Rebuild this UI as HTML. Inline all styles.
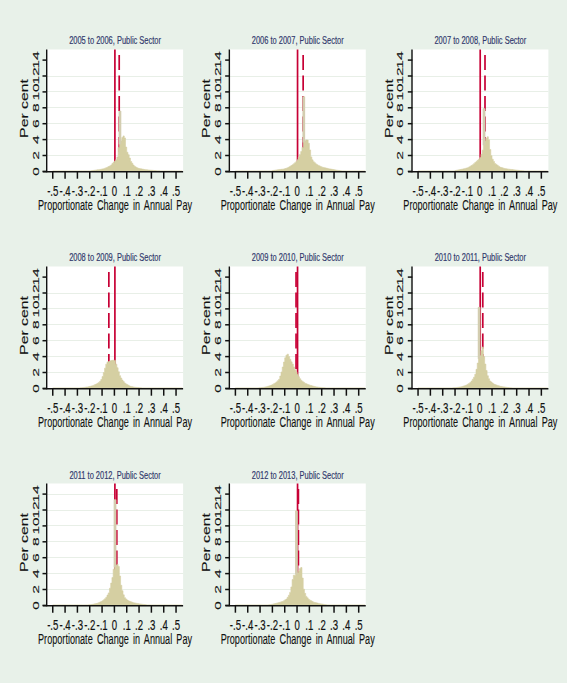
<!DOCTYPE html>
<html><head><meta charset="utf-8"><style>
html,body{margin:0;padding:0;width:567px;height:683px;overflow:hidden;background:#e8f1e9}
svg text{font-family:"Liberation Sans",sans-serif}
</style></head><body>
<svg width="567" height="683" viewBox="0 0 567 683" style="position:absolute;left:0;top:0">
<rect width="567" height="683" fill="#e8f1e9"/>
<g><rect x="47.00" y="49.50" width="136.10" height="121.90" fill="#fff"/><line x1="47.00" x2="183.10" y1="155.50" y2="155.50" stroke="#e8efe7" stroke-width="1"/><line x1="47.00" x2="183.10" y1="139.50" y2="139.50" stroke="#e8efe7" stroke-width="1"/><line x1="47.00" x2="183.10" y1="123.50" y2="123.50" stroke="#e8efe7" stroke-width="1"/><line x1="47.00" x2="183.10" y1="107.50" y2="107.50" stroke="#e8efe7" stroke-width="1"/><line x1="47.00" x2="183.10" y1="91.50" y2="91.50" stroke="#e8efe7" stroke-width="1"/><line x1="47.00" x2="183.10" y1="76.50" y2="76.50" stroke="#e8efe7" stroke-width="1"/><line x1="114.90" x2="114.90" y1="49.50" y2="171.40" stroke="#c70035" stroke-width="1.7"/><line x1="119.21" x2="119.21" y1="171.90" y2="49.50" stroke="#c70035" stroke-width="1.7" stroke-dasharray="15 5.5" stroke-dashoffset="0.5"/><path d="M52.75 171.40V170.92H53.98V170.92H55.22V170.92H56.45V170.92H57.68V170.92H58.92V170.92H60.15V170.92H61.38V170.92H62.61V170.92H63.85V170.92H65.08V170.92H66.31V170.92H67.55V170.92H68.78V170.92H70.01V170.92H71.25V170.92H72.48V170.92H73.71V170.92H74.94V170.92H76.18V170.92H77.41V170.92H78.64V170.92H79.88V170.92H81.11V170.92H82.34V170.92H83.58V170.92H84.81V170.92H86.04V170.92H87.27V170.92H88.51V170.92H89.74V170.91H90.97V170.73H92.21V170.55H93.44V170.37H94.67V170.18H95.91V170.00H97.14V169.82H98.37V169.64H99.60V169.44H100.84V169.20H102.07V168.96H103.30V168.72H104.54V168.23H105.77V167.71H107.00V167.18H108.24V166.56H109.47V165.90H110.70V165.01H111.93V163.58H113.17V162.15H114.40V161.06H115.63V159.74H116.87V157.09H118.10V147.55H119.33V110.98H120.57V140.79H121.80V137.53H123.03V135.94H124.26V137.93H125.50V147.07H126.73V152.26H127.96V154.71H129.20V158.08H130.43V161.46H131.66V163.28H132.90V165.11H134.13V166.30H135.36V167.07H136.59V167.84H137.83V168.34H139.06V168.58H140.29V168.82H141.53V169.05H142.76V169.27H143.99V169.47H145.22V169.67H146.46V169.87H147.69V170.02H148.92V170.12H150.16V170.22H151.39V170.32H152.62V170.42H153.86V170.52H155.09V170.61H156.32V170.71H157.56V170.80H158.79V170.86H160.02V170.92H161.25V170.92H162.49V170.92H163.72V170.92H164.95V170.92H166.19V170.92H167.42V170.92H168.65V170.92H169.88V170.92H171.12V170.92H172.35V170.92H173.58V170.92H174.82V170.92H176.05V170.92H177.28V170.92H178.52V170.92H179.75V170.92H180.98V170.92H182.22V171.40Z" fill="#d5cfa2" stroke="#d5cfa2" stroke-width="0.6"/><rect x="118.63" y="110.98" width="2.63" height="33.39" fill="#d3cdb0"/><line x1="46.70" x2="46.70" y1="49.50" y2="172.15" stroke="#111" stroke-width="1.4"/><line x1="42.80" x2="183.10" y1="171.70" y2="171.70" stroke="#111" stroke-width="1.5"/><line x1="42.50" x2="47.00" y1="171.40" y2="171.40" stroke="#111" stroke-width="1.5"/><line x1="42.50" x2="47.00" y1="155.50" y2="155.50" stroke="#111" stroke-width="1.5"/><line x1="42.50" x2="47.00" y1="139.60" y2="139.60" stroke="#111" stroke-width="1.5"/><line x1="42.50" x2="47.00" y1="123.70" y2="123.70" stroke="#111" stroke-width="1.5"/><line x1="42.50" x2="47.00" y1="107.80" y2="107.80" stroke="#111" stroke-width="1.5"/><line x1="42.50" x2="47.00" y1="91.90" y2="91.90" stroke="#111" stroke-width="1.5"/><line x1="42.50" x2="47.00" y1="76.00" y2="76.00" stroke="#111" stroke-width="1.5"/><line x1="42.50" x2="47.00" y1="60.10" y2="60.10" stroke="#111" stroke-width="1.5"/><line x1="52.75" x2="52.75" y1="171.40" y2="178.70" stroke="#111" stroke-width="1.5"/><line x1="65.08" x2="65.08" y1="171.40" y2="178.70" stroke="#111" stroke-width="1.5"/><line x1="77.41" x2="77.41" y1="171.40" y2="178.70" stroke="#111" stroke-width="1.5"/><line x1="89.74" x2="89.74" y1="171.40" y2="178.70" stroke="#111" stroke-width="1.5"/><line x1="102.07" x2="102.07" y1="171.40" y2="178.70" stroke="#111" stroke-width="1.5"/><line x1="114.40" x2="114.40" y1="171.40" y2="178.70" stroke="#111" stroke-width="1.5"/><line x1="126.73" x2="126.73" y1="171.40" y2="178.70" stroke="#111" stroke-width="1.5"/><line x1="139.06" x2="139.06" y1="171.40" y2="178.70" stroke="#111" stroke-width="1.5"/><line x1="151.39" x2="151.39" y1="171.40" y2="178.70" stroke="#111" stroke-width="1.5"/><line x1="163.72" x2="163.72" y1="171.40" y2="178.70" stroke="#111" stroke-width="1.5"/><line x1="176.05" x2="176.05" y1="171.40" y2="178.70" stroke="#111" stroke-width="1.5"/><text transform="translate(52.75,196.00) scale(0.625,1)" text-anchor="middle" font-size="15.4" fill="#111" stroke="#111" stroke-width="0.2">-.5</text><text transform="translate(65.08,196.00) scale(0.625,1)" text-anchor="middle" font-size="15.4" fill="#111" stroke="#111" stroke-width="0.2">-.4</text><text transform="translate(77.41,196.00) scale(0.625,1)" text-anchor="middle" font-size="15.4" fill="#111" stroke="#111" stroke-width="0.2">-.3</text><text transform="translate(89.74,196.00) scale(0.625,1)" text-anchor="middle" font-size="15.4" fill="#111" stroke="#111" stroke-width="0.2">-.2</text><text transform="translate(102.07,196.00) scale(0.625,1)" text-anchor="middle" font-size="15.4" fill="#111" stroke="#111" stroke-width="0.2">-.1</text><text transform="translate(114.40,196.00) scale(0.625,1)" text-anchor="middle" font-size="15.4" fill="#111" stroke="#111" stroke-width="0.2">0</text><text transform="translate(126.73,196.00) scale(0.625,1)" text-anchor="middle" font-size="15.4" fill="#111" stroke="#111" stroke-width="0.2">.1</text><text transform="translate(139.06,196.00) scale(0.625,1)" text-anchor="middle" font-size="15.4" fill="#111" stroke="#111" stroke-width="0.2">.2</text><text transform="translate(151.39,196.00) scale(0.625,1)" text-anchor="middle" font-size="15.4" fill="#111" stroke="#111" stroke-width="0.2">.3</text><text transform="translate(163.72,196.00) scale(0.625,1)" text-anchor="middle" font-size="15.4" fill="#111" stroke="#111" stroke-width="0.2">.4</text><text transform="translate(176.05,196.00) scale(0.625,1)" text-anchor="middle" font-size="15.4" fill="#111" stroke="#111" stroke-width="0.2">.5</text><text transform="translate(38.70,171.40) rotate(-90) scale(1,0.63)" text-anchor="middle" font-size="15.5" fill="#111" stroke="#111" stroke-width="0.2">0</text><text transform="translate(38.70,155.50) rotate(-90) scale(1,0.63)" text-anchor="middle" font-size="15.5" fill="#111" stroke="#111" stroke-width="0.2">2</text><text transform="translate(38.70,139.60) rotate(-90) scale(1,0.63)" text-anchor="middle" font-size="15.5" fill="#111" stroke="#111" stroke-width="0.2">4</text><text transform="translate(38.70,123.70) rotate(-90) scale(1,0.63)" text-anchor="middle" font-size="15.5" fill="#111" stroke="#111" stroke-width="0.2">6</text><text transform="translate(38.70,107.80) rotate(-90) scale(1,0.63)" text-anchor="middle" font-size="15.5" fill="#111" stroke="#111" stroke-width="0.2">8</text><text transform="translate(38.70,91.90) rotate(-90) scale(1,0.63)" text-anchor="middle" font-size="15.5" fill="#111" stroke="#111" stroke-width="0.2">10</text><text transform="translate(38.70,76.00) rotate(-90) scale(1,0.63)" text-anchor="middle" font-size="15.5" fill="#111" stroke="#111" stroke-width="0.2">12</text><text transform="translate(38.70,60.10) rotate(-90) scale(1,0.63)" text-anchor="middle" font-size="15.5" fill="#111" stroke="#111" stroke-width="0.2">14</text><text transform="translate(115.05,210.20) scale(0.62,1)" text-anchor="middle" font-size="14.7" word-spacing="2.7" fill="#111" stroke="#111" stroke-width="0.12">Proportionate Change in Annual Pay</text><text transform="translate(28.00,108.50) rotate(-90) scale(1,0.64)" text-anchor="middle" font-size="15.8" fill="#111" stroke="#111" stroke-width="0.2">Per cent</text><text transform="translate(115.05,43.80) scale(0.657,1)" text-anchor="middle" font-size="11.4" fill="#30386c" stroke="#30386c" stroke-width="0.18">2005 to 2006, Public Sector</text></g>
<g><rect x="229.65" y="49.50" width="136.10" height="121.90" fill="#fff"/><line x1="229.65" x2="365.75" y1="155.50" y2="155.50" stroke="#e8efe7" stroke-width="1"/><line x1="229.65" x2="365.75" y1="139.50" y2="139.50" stroke="#e8efe7" stroke-width="1"/><line x1="229.65" x2="365.75" y1="123.50" y2="123.50" stroke="#e8efe7" stroke-width="1"/><line x1="229.65" x2="365.75" y1="107.50" y2="107.50" stroke="#e8efe7" stroke-width="1"/><line x1="229.65" x2="365.75" y1="91.50" y2="91.50" stroke="#e8efe7" stroke-width="1"/><line x1="229.65" x2="365.75" y1="76.50" y2="76.50" stroke="#e8efe7" stroke-width="1"/><line x1="297.55" x2="297.55" y1="49.50" y2="171.40" stroke="#c70035" stroke-width="1.7"/><line x1="303.15" x2="303.15" y1="171.90" y2="49.50" stroke="#c70035" stroke-width="1.7" stroke-dasharray="15 5.5" stroke-dashoffset="0.5"/><path d="M235.40 171.40V170.92H236.63V170.92H237.87V170.92H239.10V170.92H240.33V170.92H241.56V170.92H242.80V170.92H244.03V170.92H245.26V170.92H246.50V170.92H247.73V170.92H248.96V170.92H250.20V170.92H251.43V170.92H252.66V170.92H253.90V170.92H255.13V170.92H256.36V170.92H257.59V170.92H258.83V170.92H260.06V170.92H261.29V170.92H262.53V170.92H263.76V170.92H264.99V170.92H266.23V170.92H267.46V170.92H268.69V170.92H269.92V170.92H271.16V170.92H272.39V170.52H273.62V170.34H274.86V170.16H276.09V169.98H277.32V169.80H278.56V169.62H279.79V169.45H281.02V169.30H282.25V169.15H283.49V168.98H284.72V168.59H285.95V168.21H287.19V167.82H288.42V167.12H289.65V166.35H290.88V165.57H292.12V164.80H293.35V163.78H294.58V162.69H295.82V161.61H297.05V159.74H298.28V157.09H299.52V154.41H300.75V151.43H301.98V147.45H303.22V96.67H304.45V141.01H305.68V139.93H306.91V140.06H308.15V143.29H309.38V149.94H310.61V156.89H311.85V159.87H313.08V161.72H314.31V162.80H315.55V163.88H316.78V164.82H318.01V165.42H319.24V166.03H320.48V166.63H321.71V167.17H322.94V167.46H324.18V167.76H325.41V168.06H326.64V168.36H327.88V168.63H329.11V168.88H330.34V169.12H331.57V169.36H332.81V169.60H334.04V169.84H335.27V170.09H336.51V170.28H337.74V170.43H338.97V170.58H340.21V170.73H341.44V170.88H342.67V170.92H343.90V170.92H345.14V170.92H346.37V170.92H347.60V170.92H348.84V170.92H350.07V170.92H351.30V170.92H352.54V170.92H353.77V170.92H355.00V170.92H356.23V170.92H357.47V170.92H358.70V170.92H359.93V170.92H361.17V170.92H362.40V170.92H363.63V170.92H364.87V171.40Z" fill="#d5cfa2" stroke="#d5cfa2" stroke-width="0.6"/><rect x="302.52" y="96.67" width="2.63" height="45.81" fill="#d3cdb0"/><line x1="229.35" x2="229.35" y1="49.50" y2="172.15" stroke="#111" stroke-width="1.4"/><line x1="225.45" x2="365.75" y1="171.70" y2="171.70" stroke="#111" stroke-width="1.5"/><line x1="225.15" x2="229.65" y1="171.40" y2="171.40" stroke="#111" stroke-width="1.5"/><line x1="225.15" x2="229.65" y1="155.50" y2="155.50" stroke="#111" stroke-width="1.5"/><line x1="225.15" x2="229.65" y1="139.60" y2="139.60" stroke="#111" stroke-width="1.5"/><line x1="225.15" x2="229.65" y1="123.70" y2="123.70" stroke="#111" stroke-width="1.5"/><line x1="225.15" x2="229.65" y1="107.80" y2="107.80" stroke="#111" stroke-width="1.5"/><line x1="225.15" x2="229.65" y1="91.90" y2="91.90" stroke="#111" stroke-width="1.5"/><line x1="225.15" x2="229.65" y1="76.00" y2="76.00" stroke="#111" stroke-width="1.5"/><line x1="225.15" x2="229.65" y1="60.10" y2="60.10" stroke="#111" stroke-width="1.5"/><line x1="235.40" x2="235.40" y1="171.40" y2="178.70" stroke="#111" stroke-width="1.5"/><line x1="247.73" x2="247.73" y1="171.40" y2="178.70" stroke="#111" stroke-width="1.5"/><line x1="260.06" x2="260.06" y1="171.40" y2="178.70" stroke="#111" stroke-width="1.5"/><line x1="272.39" x2="272.39" y1="171.40" y2="178.70" stroke="#111" stroke-width="1.5"/><line x1="284.72" x2="284.72" y1="171.40" y2="178.70" stroke="#111" stroke-width="1.5"/><line x1="297.05" x2="297.05" y1="171.40" y2="178.70" stroke="#111" stroke-width="1.5"/><line x1="309.38" x2="309.38" y1="171.40" y2="178.70" stroke="#111" stroke-width="1.5"/><line x1="321.71" x2="321.71" y1="171.40" y2="178.70" stroke="#111" stroke-width="1.5"/><line x1="334.04" x2="334.04" y1="171.40" y2="178.70" stroke="#111" stroke-width="1.5"/><line x1="346.37" x2="346.37" y1="171.40" y2="178.70" stroke="#111" stroke-width="1.5"/><line x1="358.70" x2="358.70" y1="171.40" y2="178.70" stroke="#111" stroke-width="1.5"/><text transform="translate(235.40,196.00) scale(0.625,1)" text-anchor="middle" font-size="15.4" fill="#111" stroke="#111" stroke-width="0.2">-.5</text><text transform="translate(247.73,196.00) scale(0.625,1)" text-anchor="middle" font-size="15.4" fill="#111" stroke="#111" stroke-width="0.2">-.4</text><text transform="translate(260.06,196.00) scale(0.625,1)" text-anchor="middle" font-size="15.4" fill="#111" stroke="#111" stroke-width="0.2">-.3</text><text transform="translate(272.39,196.00) scale(0.625,1)" text-anchor="middle" font-size="15.4" fill="#111" stroke="#111" stroke-width="0.2">-.2</text><text transform="translate(284.72,196.00) scale(0.625,1)" text-anchor="middle" font-size="15.4" fill="#111" stroke="#111" stroke-width="0.2">-.1</text><text transform="translate(297.05,196.00) scale(0.625,1)" text-anchor="middle" font-size="15.4" fill="#111" stroke="#111" stroke-width="0.2">0</text><text transform="translate(309.38,196.00) scale(0.625,1)" text-anchor="middle" font-size="15.4" fill="#111" stroke="#111" stroke-width="0.2">.1</text><text transform="translate(321.71,196.00) scale(0.625,1)" text-anchor="middle" font-size="15.4" fill="#111" stroke="#111" stroke-width="0.2">.2</text><text transform="translate(334.04,196.00) scale(0.625,1)" text-anchor="middle" font-size="15.4" fill="#111" stroke="#111" stroke-width="0.2">.3</text><text transform="translate(346.37,196.00) scale(0.625,1)" text-anchor="middle" font-size="15.4" fill="#111" stroke="#111" stroke-width="0.2">.4</text><text transform="translate(358.70,196.00) scale(0.625,1)" text-anchor="middle" font-size="15.4" fill="#111" stroke="#111" stroke-width="0.2">.5</text><text transform="translate(220.60,171.40) rotate(-90) scale(1,0.63)" text-anchor="middle" font-size="15.5" fill="#111" stroke="#111" stroke-width="0.2">0</text><text transform="translate(220.60,155.50) rotate(-90) scale(1,0.63)" text-anchor="middle" font-size="15.5" fill="#111" stroke="#111" stroke-width="0.2">2</text><text transform="translate(220.60,139.60) rotate(-90) scale(1,0.63)" text-anchor="middle" font-size="15.5" fill="#111" stroke="#111" stroke-width="0.2">4</text><text transform="translate(220.60,123.70) rotate(-90) scale(1,0.63)" text-anchor="middle" font-size="15.5" fill="#111" stroke="#111" stroke-width="0.2">6</text><text transform="translate(220.60,107.80) rotate(-90) scale(1,0.63)" text-anchor="middle" font-size="15.5" fill="#111" stroke="#111" stroke-width="0.2">8</text><text transform="translate(220.60,91.90) rotate(-90) scale(1,0.63)" text-anchor="middle" font-size="15.5" fill="#111" stroke="#111" stroke-width="0.2">10</text><text transform="translate(220.60,76.00) rotate(-90) scale(1,0.63)" text-anchor="middle" font-size="15.5" fill="#111" stroke="#111" stroke-width="0.2">12</text><text transform="translate(220.60,60.10) rotate(-90) scale(1,0.63)" text-anchor="middle" font-size="15.5" fill="#111" stroke="#111" stroke-width="0.2">14</text><text transform="translate(297.70,210.20) scale(0.62,1)" text-anchor="middle" font-size="14.7" word-spacing="2.7" fill="#111" stroke="#111" stroke-width="0.12">Proportionate Change in Annual Pay</text><text transform="translate(210.20,108.50) rotate(-90) scale(1,0.64)" text-anchor="middle" font-size="15.8" fill="#111" stroke="#111" stroke-width="0.2">Per cent</text><text transform="translate(297.70,43.80) scale(0.657,1)" text-anchor="middle" font-size="11.4" fill="#30386c" stroke="#30386c" stroke-width="0.18">2006 to 2007, Public Sector</text></g>
<g><rect x="412.30" y="49.50" width="136.10" height="121.90" fill="#fff"/><line x1="412.30" x2="548.40" y1="155.50" y2="155.50" stroke="#e8efe7" stroke-width="1"/><line x1="412.30" x2="548.40" y1="139.50" y2="139.50" stroke="#e8efe7" stroke-width="1"/><line x1="412.30" x2="548.40" y1="123.50" y2="123.50" stroke="#e8efe7" stroke-width="1"/><line x1="412.30" x2="548.40" y1="107.50" y2="107.50" stroke="#e8efe7" stroke-width="1"/><line x1="412.30" x2="548.40" y1="91.50" y2="91.50" stroke="#e8efe7" stroke-width="1"/><line x1="412.30" x2="548.40" y1="76.50" y2="76.50" stroke="#e8efe7" stroke-width="1"/><line x1="480.20" x2="480.20" y1="49.50" y2="171.40" stroke="#c70035" stroke-width="1.7"/><line x1="485.00" x2="485.00" y1="171.90" y2="49.50" stroke="#c70035" stroke-width="1.7" stroke-dasharray="15 5.5" stroke-dashoffset="0.5"/><path d="M418.05 171.40V170.92H419.28V170.92H420.52V170.92H421.75V170.92H422.98V170.92H424.22V170.92H425.45V170.92H426.68V170.92H427.91V170.92H429.15V170.92H430.38V170.92H431.61V170.92H432.85V170.92H434.08V170.92H435.31V170.92H436.55V170.92H437.78V170.92H439.01V170.92H440.24V170.92H441.48V170.92H442.71V170.92H443.94V170.92H445.18V170.92H446.41V170.92H447.64V170.92H448.88V170.92H450.11V170.92H451.34V170.92H452.57V170.92H453.81V170.92H455.04V170.48H456.27V170.24H457.51V169.99H458.74V169.75H459.97V169.50H461.21V169.26H462.44V169.02H463.67V168.70H464.90V168.38H466.14V168.06H467.37V167.74H468.60V166.99H469.84V166.23H471.07V165.47H472.30V164.72H473.54V163.64H474.77V162.52H476.00V161.40H477.23V160.30H478.47V159.21H479.70V157.50H480.93V154.37H482.17V150.16H483.40V108.59H484.63V141.12H485.87V138.34H487.10V136.80H488.33V139.80H489.56V149.54H490.80V155.69H492.03V159.22H493.26V161.45H494.50V163.54H495.73V164.43H496.96V165.32H498.20V166.22H499.43V167.11H500.66V167.48H501.89V167.86H503.13V168.24H504.36V168.62H505.59V168.79H506.83V168.97H508.06V169.14H509.29V169.32H510.53V169.47H511.76V169.62H512.99V169.77H514.22V169.92H515.46V170.07H516.69V170.22H517.92V170.37H519.16V170.51H520.39V170.62H521.62V170.74H522.86V170.86H524.09V170.92H525.32V170.92H526.55V170.92H527.79V170.92H529.02V170.92H530.25V170.92H531.49V170.92H532.72V170.92H533.95V170.92H535.19V170.92H536.42V170.92H537.65V170.92H538.88V170.92H540.12V170.92H541.35V170.92H542.58V170.92H543.82V170.92H545.05V170.92H546.28V170.92H547.52V171.40Z" fill="#d5cfa2" stroke="#d5cfa2" stroke-width="0.6"/><rect x="482.70" y="108.59" width="2.63" height="36.65" fill="#d3cdb0"/><line x1="412.00" x2="412.00" y1="49.50" y2="172.15" stroke="#111" stroke-width="1.4"/><line x1="408.10" x2="548.40" y1="171.70" y2="171.70" stroke="#111" stroke-width="1.5"/><line x1="407.80" x2="412.30" y1="171.40" y2="171.40" stroke="#111" stroke-width="1.5"/><line x1="407.80" x2="412.30" y1="155.50" y2="155.50" stroke="#111" stroke-width="1.5"/><line x1="407.80" x2="412.30" y1="139.60" y2="139.60" stroke="#111" stroke-width="1.5"/><line x1="407.80" x2="412.30" y1="123.70" y2="123.70" stroke="#111" stroke-width="1.5"/><line x1="407.80" x2="412.30" y1="107.80" y2="107.80" stroke="#111" stroke-width="1.5"/><line x1="407.80" x2="412.30" y1="91.90" y2="91.90" stroke="#111" stroke-width="1.5"/><line x1="407.80" x2="412.30" y1="76.00" y2="76.00" stroke="#111" stroke-width="1.5"/><line x1="407.80" x2="412.30" y1="60.10" y2="60.10" stroke="#111" stroke-width="1.5"/><line x1="418.05" x2="418.05" y1="171.40" y2="178.70" stroke="#111" stroke-width="1.5"/><line x1="430.38" x2="430.38" y1="171.40" y2="178.70" stroke="#111" stroke-width="1.5"/><line x1="442.71" x2="442.71" y1="171.40" y2="178.70" stroke="#111" stroke-width="1.5"/><line x1="455.04" x2="455.04" y1="171.40" y2="178.70" stroke="#111" stroke-width="1.5"/><line x1="467.37" x2="467.37" y1="171.40" y2="178.70" stroke="#111" stroke-width="1.5"/><line x1="479.70" x2="479.70" y1="171.40" y2="178.70" stroke="#111" stroke-width="1.5"/><line x1="492.03" x2="492.03" y1="171.40" y2="178.70" stroke="#111" stroke-width="1.5"/><line x1="504.36" x2="504.36" y1="171.40" y2="178.70" stroke="#111" stroke-width="1.5"/><line x1="516.69" x2="516.69" y1="171.40" y2="178.70" stroke="#111" stroke-width="1.5"/><line x1="529.02" x2="529.02" y1="171.40" y2="178.70" stroke="#111" stroke-width="1.5"/><line x1="541.35" x2="541.35" y1="171.40" y2="178.70" stroke="#111" stroke-width="1.5"/><text transform="translate(418.05,196.00) scale(0.625,1)" text-anchor="middle" font-size="15.4" fill="#111" stroke="#111" stroke-width="0.2">-.5</text><text transform="translate(430.38,196.00) scale(0.625,1)" text-anchor="middle" font-size="15.4" fill="#111" stroke="#111" stroke-width="0.2">-.4</text><text transform="translate(442.71,196.00) scale(0.625,1)" text-anchor="middle" font-size="15.4" fill="#111" stroke="#111" stroke-width="0.2">-.3</text><text transform="translate(455.04,196.00) scale(0.625,1)" text-anchor="middle" font-size="15.4" fill="#111" stroke="#111" stroke-width="0.2">-.2</text><text transform="translate(467.37,196.00) scale(0.625,1)" text-anchor="middle" font-size="15.4" fill="#111" stroke="#111" stroke-width="0.2">-.1</text><text transform="translate(479.70,196.00) scale(0.625,1)" text-anchor="middle" font-size="15.4" fill="#111" stroke="#111" stroke-width="0.2">0</text><text transform="translate(492.03,196.00) scale(0.625,1)" text-anchor="middle" font-size="15.4" fill="#111" stroke="#111" stroke-width="0.2">.1</text><text transform="translate(504.36,196.00) scale(0.625,1)" text-anchor="middle" font-size="15.4" fill="#111" stroke="#111" stroke-width="0.2">.2</text><text transform="translate(516.69,196.00) scale(0.625,1)" text-anchor="middle" font-size="15.4" fill="#111" stroke="#111" stroke-width="0.2">.3</text><text transform="translate(529.02,196.00) scale(0.625,1)" text-anchor="middle" font-size="15.4" fill="#111" stroke="#111" stroke-width="0.2">.4</text><text transform="translate(541.35,196.00) scale(0.625,1)" text-anchor="middle" font-size="15.4" fill="#111" stroke="#111" stroke-width="0.2">.5</text><text transform="translate(403.30,171.40) rotate(-90) scale(1,0.63)" text-anchor="middle" font-size="15.5" fill="#111" stroke="#111" stroke-width="0.2">0</text><text transform="translate(403.30,155.50) rotate(-90) scale(1,0.63)" text-anchor="middle" font-size="15.5" fill="#111" stroke="#111" stroke-width="0.2">2</text><text transform="translate(403.30,139.60) rotate(-90) scale(1,0.63)" text-anchor="middle" font-size="15.5" fill="#111" stroke="#111" stroke-width="0.2">4</text><text transform="translate(403.30,123.70) rotate(-90) scale(1,0.63)" text-anchor="middle" font-size="15.5" fill="#111" stroke="#111" stroke-width="0.2">6</text><text transform="translate(403.30,107.80) rotate(-90) scale(1,0.63)" text-anchor="middle" font-size="15.5" fill="#111" stroke="#111" stroke-width="0.2">8</text><text transform="translate(403.30,91.90) rotate(-90) scale(1,0.63)" text-anchor="middle" font-size="15.5" fill="#111" stroke="#111" stroke-width="0.2">10</text><text transform="translate(403.30,76.00) rotate(-90) scale(1,0.63)" text-anchor="middle" font-size="15.5" fill="#111" stroke="#111" stroke-width="0.2">12</text><text transform="translate(403.30,60.10) rotate(-90) scale(1,0.63)" text-anchor="middle" font-size="15.5" fill="#111" stroke="#111" stroke-width="0.2">14</text><text transform="translate(480.35,210.20) scale(0.62,1)" text-anchor="middle" font-size="14.7" word-spacing="2.7" fill="#111" stroke="#111" stroke-width="0.12">Proportionate Change in Annual Pay</text><text transform="translate(393.00,108.50) rotate(-90) scale(1,0.64)" text-anchor="middle" font-size="15.8" fill="#111" stroke="#111" stroke-width="0.2">Per cent</text><text transform="translate(480.35,43.80) scale(0.657,1)" text-anchor="middle" font-size="11.4" fill="#30386c" stroke="#30386c" stroke-width="0.18">2007 to 2008, Public Sector</text></g>
<g><rect x="47.00" y="266.50" width="136.10" height="121.90" fill="#fff"/><line x1="47.00" x2="183.10" y1="372.50" y2="372.50" stroke="#e8efe7" stroke-width="1"/><line x1="47.00" x2="183.10" y1="356.50" y2="356.50" stroke="#e8efe7" stroke-width="1"/><line x1="47.00" x2="183.10" y1="340.50" y2="340.50" stroke="#e8efe7" stroke-width="1"/><line x1="47.00" x2="183.10" y1="324.50" y2="324.50" stroke="#e8efe7" stroke-width="1"/><line x1="47.00" x2="183.10" y1="308.50" y2="308.50" stroke="#e8efe7" stroke-width="1"/><line x1="47.00" x2="183.10" y1="293.50" y2="293.50" stroke="#e8efe7" stroke-width="1"/><line x1="114.90" x2="114.90" y1="266.50" y2="388.40" stroke="#c70035" stroke-width="1.7"/><line x1="108.85" x2="108.85" y1="388.90" y2="266.50" stroke="#c70035" stroke-width="1.7" stroke-dasharray="15 5.5" stroke-dashoffset="0.5"/><path d="M52.75 388.40V387.92H53.98V387.92H55.22V387.92H56.45V387.92H57.68V387.92H58.92V387.92H60.15V387.92H61.38V387.92H62.61V387.92H63.85V387.92H65.08V387.92H66.31V387.92H67.55V387.92H68.78V387.92H70.01V387.92H71.25V387.92H72.48V387.92H73.71V387.92H74.94V387.92H76.18V387.92H77.41V387.92H78.64V387.92H79.88V387.85H81.11V387.73H82.34V387.60H83.58V387.43H84.81V387.26H86.04V387.08H87.27V386.91H88.51V386.62H89.74V386.32H90.97V386.02H92.21V385.73H93.44V385.16H94.67V384.55H95.91V383.95H97.14V383.35H98.37V382.38H99.60V381.32H100.84V379.51H102.07V376.56H103.30V372.55H104.54V368.13H105.77V364.15H107.00V361.97H108.24V361.57H109.47V361.04H110.70V360.53H111.93V360.37H113.17V360.21H114.40V360.39H115.63V364.15H116.87V367.73H118.10V371.70H119.33V375.68H120.57V378.02H121.80V380.10H123.03V381.59H124.26V383.08H125.50V383.90H126.73V384.63H127.96V385.37H129.20V386.11H130.43V386.46H131.66V386.72H132.90V386.98H134.13V387.24H135.36V387.37H136.59V387.48H137.83V387.58H139.06V387.69H140.29V387.79H141.53V387.90H142.76V387.92H143.99V387.92H145.22V387.92H146.46V387.92H147.69V387.92H148.92V387.92H150.16V387.92H151.39V387.92H152.62V387.92H153.86V387.92H155.09V387.92H156.32V387.92H157.56V387.92H158.79V387.92H160.02V387.92H161.25V387.92H162.49V387.92H163.72V387.92H164.95V387.92H166.19V387.92H167.42V387.92H168.65V387.92H169.88V387.92H171.12V387.92H172.35V387.92H173.58V387.92H174.82V387.92H176.05V387.92H177.28V387.92H178.52V387.92H179.75V387.92H180.98V387.92H182.22V388.40Z" fill="#d5cfa2" stroke="#d5cfa2" stroke-width="0.6"/><line x1="46.70" x2="46.70" y1="266.50" y2="389.15" stroke="#111" stroke-width="1.4"/><line x1="42.80" x2="183.10" y1="388.70" y2="388.70" stroke="#111" stroke-width="1.5"/><line x1="42.50" x2="47.00" y1="388.40" y2="388.40" stroke="#111" stroke-width="1.5"/><line x1="42.50" x2="47.00" y1="372.50" y2="372.50" stroke="#111" stroke-width="1.5"/><line x1="42.50" x2="47.00" y1="356.60" y2="356.60" stroke="#111" stroke-width="1.5"/><line x1="42.50" x2="47.00" y1="340.70" y2="340.70" stroke="#111" stroke-width="1.5"/><line x1="42.50" x2="47.00" y1="324.80" y2="324.80" stroke="#111" stroke-width="1.5"/><line x1="42.50" x2="47.00" y1="308.90" y2="308.90" stroke="#111" stroke-width="1.5"/><line x1="42.50" x2="47.00" y1="293.00" y2="293.00" stroke="#111" stroke-width="1.5"/><line x1="42.50" x2="47.00" y1="277.10" y2="277.10" stroke="#111" stroke-width="1.5"/><line x1="52.75" x2="52.75" y1="388.40" y2="395.70" stroke="#111" stroke-width="1.5"/><line x1="65.08" x2="65.08" y1="388.40" y2="395.70" stroke="#111" stroke-width="1.5"/><line x1="77.41" x2="77.41" y1="388.40" y2="395.70" stroke="#111" stroke-width="1.5"/><line x1="89.74" x2="89.74" y1="388.40" y2="395.70" stroke="#111" stroke-width="1.5"/><line x1="102.07" x2="102.07" y1="388.40" y2="395.70" stroke="#111" stroke-width="1.5"/><line x1="114.40" x2="114.40" y1="388.40" y2="395.70" stroke="#111" stroke-width="1.5"/><line x1="126.73" x2="126.73" y1="388.40" y2="395.70" stroke="#111" stroke-width="1.5"/><line x1="139.06" x2="139.06" y1="388.40" y2="395.70" stroke="#111" stroke-width="1.5"/><line x1="151.39" x2="151.39" y1="388.40" y2="395.70" stroke="#111" stroke-width="1.5"/><line x1="163.72" x2="163.72" y1="388.40" y2="395.70" stroke="#111" stroke-width="1.5"/><line x1="176.05" x2="176.05" y1="388.40" y2="395.70" stroke="#111" stroke-width="1.5"/><text transform="translate(52.75,413.00) scale(0.625,1)" text-anchor="middle" font-size="15.4" fill="#111" stroke="#111" stroke-width="0.2">-.5</text><text transform="translate(65.08,413.00) scale(0.625,1)" text-anchor="middle" font-size="15.4" fill="#111" stroke="#111" stroke-width="0.2">-.4</text><text transform="translate(77.41,413.00) scale(0.625,1)" text-anchor="middle" font-size="15.4" fill="#111" stroke="#111" stroke-width="0.2">-.3</text><text transform="translate(89.74,413.00) scale(0.625,1)" text-anchor="middle" font-size="15.4" fill="#111" stroke="#111" stroke-width="0.2">-.2</text><text transform="translate(102.07,413.00) scale(0.625,1)" text-anchor="middle" font-size="15.4" fill="#111" stroke="#111" stroke-width="0.2">-.1</text><text transform="translate(114.40,413.00) scale(0.625,1)" text-anchor="middle" font-size="15.4" fill="#111" stroke="#111" stroke-width="0.2">0</text><text transform="translate(126.73,413.00) scale(0.625,1)" text-anchor="middle" font-size="15.4" fill="#111" stroke="#111" stroke-width="0.2">.1</text><text transform="translate(139.06,413.00) scale(0.625,1)" text-anchor="middle" font-size="15.4" fill="#111" stroke="#111" stroke-width="0.2">.2</text><text transform="translate(151.39,413.00) scale(0.625,1)" text-anchor="middle" font-size="15.4" fill="#111" stroke="#111" stroke-width="0.2">.3</text><text transform="translate(163.72,413.00) scale(0.625,1)" text-anchor="middle" font-size="15.4" fill="#111" stroke="#111" stroke-width="0.2">.4</text><text transform="translate(176.05,413.00) scale(0.625,1)" text-anchor="middle" font-size="15.4" fill="#111" stroke="#111" stroke-width="0.2">.5</text><text transform="translate(38.70,388.40) rotate(-90) scale(1,0.63)" text-anchor="middle" font-size="15.5" fill="#111" stroke="#111" stroke-width="0.2">0</text><text transform="translate(38.70,372.50) rotate(-90) scale(1,0.63)" text-anchor="middle" font-size="15.5" fill="#111" stroke="#111" stroke-width="0.2">2</text><text transform="translate(38.70,356.60) rotate(-90) scale(1,0.63)" text-anchor="middle" font-size="15.5" fill="#111" stroke="#111" stroke-width="0.2">4</text><text transform="translate(38.70,340.70) rotate(-90) scale(1,0.63)" text-anchor="middle" font-size="15.5" fill="#111" stroke="#111" stroke-width="0.2">6</text><text transform="translate(38.70,324.80) rotate(-90) scale(1,0.63)" text-anchor="middle" font-size="15.5" fill="#111" stroke="#111" stroke-width="0.2">8</text><text transform="translate(38.70,308.90) rotate(-90) scale(1,0.63)" text-anchor="middle" font-size="15.5" fill="#111" stroke="#111" stroke-width="0.2">10</text><text transform="translate(38.70,293.00) rotate(-90) scale(1,0.63)" text-anchor="middle" font-size="15.5" fill="#111" stroke="#111" stroke-width="0.2">12</text><text transform="translate(38.70,277.10) rotate(-90) scale(1,0.63)" text-anchor="middle" font-size="15.5" fill="#111" stroke="#111" stroke-width="0.2">14</text><text transform="translate(115.05,427.20) scale(0.62,1)" text-anchor="middle" font-size="14.7" word-spacing="2.7" fill="#111" stroke="#111" stroke-width="0.12">Proportionate Change in Annual Pay</text><text transform="translate(28.00,325.50) rotate(-90) scale(1,0.64)" text-anchor="middle" font-size="15.8" fill="#111" stroke="#111" stroke-width="0.2">Per cent</text><text transform="translate(115.05,260.80) scale(0.657,1)" text-anchor="middle" font-size="11.4" fill="#30386c" stroke="#30386c" stroke-width="0.18">2008 to 2009, Public Sector</text></g>
<g><rect x="229.65" y="266.50" width="136.10" height="121.90" fill="#fff"/><line x1="229.65" x2="365.75" y1="372.50" y2="372.50" stroke="#e8efe7" stroke-width="1"/><line x1="229.65" x2="365.75" y1="356.50" y2="356.50" stroke="#e8efe7" stroke-width="1"/><line x1="229.65" x2="365.75" y1="340.50" y2="340.50" stroke="#e8efe7" stroke-width="1"/><line x1="229.65" x2="365.75" y1="324.50" y2="324.50" stroke="#e8efe7" stroke-width="1"/><line x1="229.65" x2="365.75" y1="308.50" y2="308.50" stroke="#e8efe7" stroke-width="1"/><line x1="229.65" x2="365.75" y1="293.50" y2="293.50" stroke="#e8efe7" stroke-width="1"/><line x1="297.55" x2="297.55" y1="266.50" y2="388.40" stroke="#c70035" stroke-width="1.7"/><line x1="296.06" x2="296.06" y1="388.90" y2="266.50" stroke="#c70035" stroke-width="1.7" stroke-dasharray="15 5.5" stroke-dashoffset="0.5"/><path d="M235.40 388.40V387.92H236.63V387.92H237.87V387.92H239.10V387.92H240.33V387.92H241.56V387.92H242.80V387.92H244.03V387.92H245.26V387.92H246.50V387.92H247.73V387.92H248.96V387.92H250.20V387.92H251.43V387.92H252.66V387.92H253.90V387.92H255.13V387.92H256.36V387.92H257.59V387.91H258.83V387.81H260.06V387.71H261.29V387.61H262.53V387.41H263.76V387.19H264.99V386.97H266.23V386.75H267.46V386.35H268.69V385.92H269.92V385.49H271.16V385.07H272.39V384.39H273.62V383.64H274.86V382.89H276.09V381.89H277.32V380.71H278.56V379.33H279.79V376.10H281.02V372.00H282.25V367.03H283.49V362.07H284.72V357.81H285.95V355.23H287.19V354.15H288.42V356.60H289.65V359.33H290.88V361.87H292.12V364.10H293.35V366.94H294.58V369.74H295.82V371.85H297.05V374.19H298.28V376.77H299.52V378.78H300.75V380.42H301.98V381.39H303.22V382.36H304.45V383.28H305.68V383.79H306.91V384.29H308.15V384.80H309.38V385.30H310.61V385.62H311.85V385.95H313.08V386.27H314.31V386.60H315.55V386.90H316.78V387.05H318.01V387.20H319.24V387.35H320.48V387.50H321.71V387.63H322.94V387.73H324.18V387.83H325.41V387.92H326.64V387.92H327.88V387.92H329.11V387.92H330.34V387.92H331.57V387.92H332.81V387.92H334.04V387.92H335.27V387.92H336.51V387.92H337.74V387.92H338.97V387.92H340.21V387.92H341.44V387.92H342.67V387.92H343.90V387.92H345.14V387.92H346.37V387.92H347.60V387.92H348.84V387.92H350.07V387.92H351.30V387.92H352.54V387.92H353.77V387.92H355.00V387.92H356.23V387.92H357.47V387.92H358.70V387.92H359.93V387.92H361.17V387.92H362.40V387.92H363.63V387.92H364.87V388.40Z" fill="#d5cfa2" stroke="#d5cfa2" stroke-width="0.6"/><line x1="229.35" x2="229.35" y1="266.50" y2="389.15" stroke="#111" stroke-width="1.4"/><line x1="225.45" x2="365.75" y1="388.70" y2="388.70" stroke="#111" stroke-width="1.5"/><line x1="225.15" x2="229.65" y1="388.40" y2="388.40" stroke="#111" stroke-width="1.5"/><line x1="225.15" x2="229.65" y1="372.50" y2="372.50" stroke="#111" stroke-width="1.5"/><line x1="225.15" x2="229.65" y1="356.60" y2="356.60" stroke="#111" stroke-width="1.5"/><line x1="225.15" x2="229.65" y1="340.70" y2="340.70" stroke="#111" stroke-width="1.5"/><line x1="225.15" x2="229.65" y1="324.80" y2="324.80" stroke="#111" stroke-width="1.5"/><line x1="225.15" x2="229.65" y1="308.90" y2="308.90" stroke="#111" stroke-width="1.5"/><line x1="225.15" x2="229.65" y1="293.00" y2="293.00" stroke="#111" stroke-width="1.5"/><line x1="225.15" x2="229.65" y1="277.10" y2="277.10" stroke="#111" stroke-width="1.5"/><line x1="235.40" x2="235.40" y1="388.40" y2="395.70" stroke="#111" stroke-width="1.5"/><line x1="247.73" x2="247.73" y1="388.40" y2="395.70" stroke="#111" stroke-width="1.5"/><line x1="260.06" x2="260.06" y1="388.40" y2="395.70" stroke="#111" stroke-width="1.5"/><line x1="272.39" x2="272.39" y1="388.40" y2="395.70" stroke="#111" stroke-width="1.5"/><line x1="284.72" x2="284.72" y1="388.40" y2="395.70" stroke="#111" stroke-width="1.5"/><line x1="297.05" x2="297.05" y1="388.40" y2="395.70" stroke="#111" stroke-width="1.5"/><line x1="309.38" x2="309.38" y1="388.40" y2="395.70" stroke="#111" stroke-width="1.5"/><line x1="321.71" x2="321.71" y1="388.40" y2="395.70" stroke="#111" stroke-width="1.5"/><line x1="334.04" x2="334.04" y1="388.40" y2="395.70" stroke="#111" stroke-width="1.5"/><line x1="346.37" x2="346.37" y1="388.40" y2="395.70" stroke="#111" stroke-width="1.5"/><line x1="358.70" x2="358.70" y1="388.40" y2="395.70" stroke="#111" stroke-width="1.5"/><text transform="translate(235.40,413.00) scale(0.625,1)" text-anchor="middle" font-size="15.4" fill="#111" stroke="#111" stroke-width="0.2">-.5</text><text transform="translate(247.73,413.00) scale(0.625,1)" text-anchor="middle" font-size="15.4" fill="#111" stroke="#111" stroke-width="0.2">-.4</text><text transform="translate(260.06,413.00) scale(0.625,1)" text-anchor="middle" font-size="15.4" fill="#111" stroke="#111" stroke-width="0.2">-.3</text><text transform="translate(272.39,413.00) scale(0.625,1)" text-anchor="middle" font-size="15.4" fill="#111" stroke="#111" stroke-width="0.2">-.2</text><text transform="translate(284.72,413.00) scale(0.625,1)" text-anchor="middle" font-size="15.4" fill="#111" stroke="#111" stroke-width="0.2">-.1</text><text transform="translate(297.05,413.00) scale(0.625,1)" text-anchor="middle" font-size="15.4" fill="#111" stroke="#111" stroke-width="0.2">0</text><text transform="translate(309.38,413.00) scale(0.625,1)" text-anchor="middle" font-size="15.4" fill="#111" stroke="#111" stroke-width="0.2">.1</text><text transform="translate(321.71,413.00) scale(0.625,1)" text-anchor="middle" font-size="15.4" fill="#111" stroke="#111" stroke-width="0.2">.2</text><text transform="translate(334.04,413.00) scale(0.625,1)" text-anchor="middle" font-size="15.4" fill="#111" stroke="#111" stroke-width="0.2">.3</text><text transform="translate(346.37,413.00) scale(0.625,1)" text-anchor="middle" font-size="15.4" fill="#111" stroke="#111" stroke-width="0.2">.4</text><text transform="translate(358.70,413.00) scale(0.625,1)" text-anchor="middle" font-size="15.4" fill="#111" stroke="#111" stroke-width="0.2">.5</text><text transform="translate(220.60,388.40) rotate(-90) scale(1,0.63)" text-anchor="middle" font-size="15.5" fill="#111" stroke="#111" stroke-width="0.2">0</text><text transform="translate(220.60,372.50) rotate(-90) scale(1,0.63)" text-anchor="middle" font-size="15.5" fill="#111" stroke="#111" stroke-width="0.2">2</text><text transform="translate(220.60,356.60) rotate(-90) scale(1,0.63)" text-anchor="middle" font-size="15.5" fill="#111" stroke="#111" stroke-width="0.2">4</text><text transform="translate(220.60,340.70) rotate(-90) scale(1,0.63)" text-anchor="middle" font-size="15.5" fill="#111" stroke="#111" stroke-width="0.2">6</text><text transform="translate(220.60,324.80) rotate(-90) scale(1,0.63)" text-anchor="middle" font-size="15.5" fill="#111" stroke="#111" stroke-width="0.2">8</text><text transform="translate(220.60,308.90) rotate(-90) scale(1,0.63)" text-anchor="middle" font-size="15.5" fill="#111" stroke="#111" stroke-width="0.2">10</text><text transform="translate(220.60,293.00) rotate(-90) scale(1,0.63)" text-anchor="middle" font-size="15.5" fill="#111" stroke="#111" stroke-width="0.2">12</text><text transform="translate(220.60,277.10) rotate(-90) scale(1,0.63)" text-anchor="middle" font-size="15.5" fill="#111" stroke="#111" stroke-width="0.2">14</text><text transform="translate(297.70,427.20) scale(0.62,1)" text-anchor="middle" font-size="14.7" word-spacing="2.7" fill="#111" stroke="#111" stroke-width="0.12">Proportionate Change in Annual Pay</text><text transform="translate(210.20,325.50) rotate(-90) scale(1,0.64)" text-anchor="middle" font-size="15.8" fill="#111" stroke="#111" stroke-width="0.2">Per cent</text><text transform="translate(297.70,260.80) scale(0.657,1)" text-anchor="middle" font-size="11.4" fill="#30386c" stroke="#30386c" stroke-width="0.18">2009 to 2010, Public Sector</text></g>
<g><rect x="412.30" y="266.50" width="136.10" height="121.90" fill="#fff"/><line x1="412.30" x2="548.40" y1="372.50" y2="372.50" stroke="#e8efe7" stroke-width="1"/><line x1="412.30" x2="548.40" y1="356.50" y2="356.50" stroke="#e8efe7" stroke-width="1"/><line x1="412.30" x2="548.40" y1="340.50" y2="340.50" stroke="#e8efe7" stroke-width="1"/><line x1="412.30" x2="548.40" y1="324.50" y2="324.50" stroke="#e8efe7" stroke-width="1"/><line x1="412.30" x2="548.40" y1="308.50" y2="308.50" stroke="#e8efe7" stroke-width="1"/><line x1="412.30" x2="548.40" y1="293.50" y2="293.50" stroke="#e8efe7" stroke-width="1"/><line x1="480.20" x2="480.20" y1="266.50" y2="388.40" stroke="#c70035" stroke-width="1.7"/><line x1="482.78" x2="482.78" y1="388.90" y2="266.50" stroke="#c70035" stroke-width="1.7" stroke-dasharray="15 5.5" stroke-dashoffset="0.5"/><path d="M418.05 388.40V387.92H419.28V387.92H420.52V387.92H421.75V387.92H422.98V387.92H424.22V387.92H425.45V387.92H426.68V387.92H427.91V387.92H429.15V387.92H430.38V387.92H431.61V387.92H432.85V387.92H434.08V387.92H435.31V387.92H436.55V387.92H437.78V387.92H439.01V387.92H440.24V387.92H441.48V387.92H442.71V387.92H443.94V387.92H445.18V387.92H446.41V387.92H447.64V387.92H448.88V387.92H450.11V387.92H451.34V387.92H452.57V387.83H453.81V387.73H455.04V387.63H456.27V387.48H457.51V387.30H458.74V387.11H459.97V386.93H461.21V386.75H462.44V386.33H463.67V385.88H464.90V385.44H466.14V384.99H467.37V384.23H468.60V383.38H469.84V382.54H471.07V381.07H472.30V379.20H473.54V377.22H474.77V374.28H476.00V369.37H477.23V363.12H478.47V307.31H479.70V355.43H480.93V350.64H482.17V346.99H483.40V356.60H484.63V364.05H485.87V370.59H487.10V375.76H488.33V378.74H489.56V381.03H490.80V382.05H492.03V383.07H493.26V384.08H494.50V384.57H495.73V384.99H496.96V385.41H498.20V385.83H499.43V386.25H500.66V386.47H501.89V386.68H503.13V386.89H504.36V387.11H505.59V387.32H506.83V387.49H508.06V387.62H509.29V387.74H510.53V387.86H511.76V387.92H512.99V387.92H514.22V387.92H515.46V387.92H516.69V387.92H517.92V387.92H519.16V387.92H520.39V387.92H521.62V387.92H522.86V387.92H524.09V387.92H525.32V387.92H526.55V387.92H527.79V387.92H529.02V387.92H530.25V387.92H531.49V387.92H532.72V387.92H533.95V387.92H535.19V387.92H536.42V387.92H537.65V387.92H538.88V387.92H540.12V387.92H541.35V387.92H542.58V387.92H543.82V387.92H545.05V387.92H546.28V387.92H547.52V388.40Z" fill="#d5cfa2" stroke="#d5cfa2" stroke-width="0.6"/><rect x="477.77" y="307.31" width="2.63" height="51.47" fill="#d3cdb0"/><line x1="412.00" x2="412.00" y1="266.50" y2="389.15" stroke="#111" stroke-width="1.4"/><line x1="408.10" x2="548.40" y1="388.70" y2="388.70" stroke="#111" stroke-width="1.5"/><line x1="407.80" x2="412.30" y1="388.40" y2="388.40" stroke="#111" stroke-width="1.5"/><line x1="407.80" x2="412.30" y1="372.50" y2="372.50" stroke="#111" stroke-width="1.5"/><line x1="407.80" x2="412.30" y1="356.60" y2="356.60" stroke="#111" stroke-width="1.5"/><line x1="407.80" x2="412.30" y1="340.70" y2="340.70" stroke="#111" stroke-width="1.5"/><line x1="407.80" x2="412.30" y1="324.80" y2="324.80" stroke="#111" stroke-width="1.5"/><line x1="407.80" x2="412.30" y1="308.90" y2="308.90" stroke="#111" stroke-width="1.5"/><line x1="407.80" x2="412.30" y1="293.00" y2="293.00" stroke="#111" stroke-width="1.5"/><line x1="407.80" x2="412.30" y1="277.10" y2="277.10" stroke="#111" stroke-width="1.5"/><line x1="418.05" x2="418.05" y1="388.40" y2="395.70" stroke="#111" stroke-width="1.5"/><line x1="430.38" x2="430.38" y1="388.40" y2="395.70" stroke="#111" stroke-width="1.5"/><line x1="442.71" x2="442.71" y1="388.40" y2="395.70" stroke="#111" stroke-width="1.5"/><line x1="455.04" x2="455.04" y1="388.40" y2="395.70" stroke="#111" stroke-width="1.5"/><line x1="467.37" x2="467.37" y1="388.40" y2="395.70" stroke="#111" stroke-width="1.5"/><line x1="479.70" x2="479.70" y1="388.40" y2="395.70" stroke="#111" stroke-width="1.5"/><line x1="492.03" x2="492.03" y1="388.40" y2="395.70" stroke="#111" stroke-width="1.5"/><line x1="504.36" x2="504.36" y1="388.40" y2="395.70" stroke="#111" stroke-width="1.5"/><line x1="516.69" x2="516.69" y1="388.40" y2="395.70" stroke="#111" stroke-width="1.5"/><line x1="529.02" x2="529.02" y1="388.40" y2="395.70" stroke="#111" stroke-width="1.5"/><line x1="541.35" x2="541.35" y1="388.40" y2="395.70" stroke="#111" stroke-width="1.5"/><text transform="translate(418.05,413.00) scale(0.625,1)" text-anchor="middle" font-size="15.4" fill="#111" stroke="#111" stroke-width="0.2">-.5</text><text transform="translate(430.38,413.00) scale(0.625,1)" text-anchor="middle" font-size="15.4" fill="#111" stroke="#111" stroke-width="0.2">-.4</text><text transform="translate(442.71,413.00) scale(0.625,1)" text-anchor="middle" font-size="15.4" fill="#111" stroke="#111" stroke-width="0.2">-.3</text><text transform="translate(455.04,413.00) scale(0.625,1)" text-anchor="middle" font-size="15.4" fill="#111" stroke="#111" stroke-width="0.2">-.2</text><text transform="translate(467.37,413.00) scale(0.625,1)" text-anchor="middle" font-size="15.4" fill="#111" stroke="#111" stroke-width="0.2">-.1</text><text transform="translate(479.70,413.00) scale(0.625,1)" text-anchor="middle" font-size="15.4" fill="#111" stroke="#111" stroke-width="0.2">0</text><text transform="translate(492.03,413.00) scale(0.625,1)" text-anchor="middle" font-size="15.4" fill="#111" stroke="#111" stroke-width="0.2">.1</text><text transform="translate(504.36,413.00) scale(0.625,1)" text-anchor="middle" font-size="15.4" fill="#111" stroke="#111" stroke-width="0.2">.2</text><text transform="translate(516.69,413.00) scale(0.625,1)" text-anchor="middle" font-size="15.4" fill="#111" stroke="#111" stroke-width="0.2">.3</text><text transform="translate(529.02,413.00) scale(0.625,1)" text-anchor="middle" font-size="15.4" fill="#111" stroke="#111" stroke-width="0.2">.4</text><text transform="translate(541.35,413.00) scale(0.625,1)" text-anchor="middle" font-size="15.4" fill="#111" stroke="#111" stroke-width="0.2">.5</text><text transform="translate(403.30,388.40) rotate(-90) scale(1,0.63)" text-anchor="middle" font-size="15.5" fill="#111" stroke="#111" stroke-width="0.2">0</text><text transform="translate(403.30,372.50) rotate(-90) scale(1,0.63)" text-anchor="middle" font-size="15.5" fill="#111" stroke="#111" stroke-width="0.2">2</text><text transform="translate(403.30,356.60) rotate(-90) scale(1,0.63)" text-anchor="middle" font-size="15.5" fill="#111" stroke="#111" stroke-width="0.2">4</text><text transform="translate(403.30,340.70) rotate(-90) scale(1,0.63)" text-anchor="middle" font-size="15.5" fill="#111" stroke="#111" stroke-width="0.2">6</text><text transform="translate(403.30,324.80) rotate(-90) scale(1,0.63)" text-anchor="middle" font-size="15.5" fill="#111" stroke="#111" stroke-width="0.2">8</text><text transform="translate(403.30,308.90) rotate(-90) scale(1,0.63)" text-anchor="middle" font-size="15.5" fill="#111" stroke="#111" stroke-width="0.2">10</text><text transform="translate(403.30,293.00) rotate(-90) scale(1,0.63)" text-anchor="middle" font-size="15.5" fill="#111" stroke="#111" stroke-width="0.2">12</text><text transform="translate(403.30,277.10) rotate(-90) scale(1,0.63)" text-anchor="middle" font-size="15.5" fill="#111" stroke="#111" stroke-width="0.2">14</text><text transform="translate(480.35,427.20) scale(0.62,1)" text-anchor="middle" font-size="14.7" word-spacing="2.7" fill="#111" stroke="#111" stroke-width="0.12">Proportionate Change in Annual Pay</text><text transform="translate(393.00,325.50) rotate(-90) scale(1,0.64)" text-anchor="middle" font-size="15.8" fill="#111" stroke="#111" stroke-width="0.2">Per cent</text><text transform="translate(480.35,260.80) scale(0.657,1)" text-anchor="middle" font-size="11.4" fill="#30386c" stroke="#30386c" stroke-width="0.18">2010 to 2011, Public Sector</text></g>
<g><rect x="47.00" y="483.50" width="136.10" height="121.90" fill="#fff"/><line x1="47.00" x2="183.10" y1="589.50" y2="589.50" stroke="#e8efe7" stroke-width="1"/><line x1="47.00" x2="183.10" y1="573.50" y2="573.50" stroke="#e8efe7" stroke-width="1"/><line x1="47.00" x2="183.10" y1="557.50" y2="557.50" stroke="#e8efe7" stroke-width="1"/><line x1="47.00" x2="183.10" y1="541.50" y2="541.50" stroke="#e8efe7" stroke-width="1"/><line x1="47.00" x2="183.10" y1="525.50" y2="525.50" stroke="#e8efe7" stroke-width="1"/><line x1="47.00" x2="183.10" y1="510.50" y2="510.50" stroke="#e8efe7" stroke-width="1"/><line x1="47.00" x2="183.10" y1="494.50" y2="494.50" stroke="#e8efe7" stroke-width="1"/><line x1="114.90" x2="114.90" y1="483.50" y2="605.40" stroke="#c70035" stroke-width="1.7"/><line x1="116.80" x2="116.80" y1="605.90" y2="483.50" stroke="#c70035" stroke-width="1.7" stroke-dasharray="15 5.5" stroke-dashoffset="0.5"/><path d="M52.75 605.40V604.92H53.98V604.92H55.22V604.92H56.45V604.92H57.68V604.92H58.92V604.92H60.15V604.92H61.38V604.92H62.61V604.92H63.85V604.92H65.08V604.92H66.31V604.92H67.55V604.92H68.78V604.92H70.01V604.92H71.25V604.92H72.48V604.92H73.71V604.92H74.94V604.92H76.18V604.92H77.41V604.92H78.64V604.92H79.88V604.92H81.11V604.92H82.34V604.92H83.58V604.92H84.81V604.92H86.04V604.92H87.27V604.89H88.51V604.78H89.74V604.67H90.97V604.56H92.21V604.33H93.44V604.06H94.67V603.78H95.91V603.50H97.14V603.23H98.37V602.68H99.60V602.06H100.84V601.44H102.07V600.82H103.30V599.84H104.54V598.72H105.77V597.27H107.00V595.08H108.24V592.90H109.47V588.21H110.70V583.08H111.93V577.57H113.17V569.23H114.40V499.66H115.63V565.44H116.87V564.39H118.10V566.51H119.33V575.99H120.57V585.28H121.80V590.74H123.03V594.87H124.26V597.65H125.50V598.94H126.73V600.07H127.96V600.87H129.20V601.36H130.43V601.84H131.66V602.33H132.90V602.71H134.13V602.95H135.36V603.19H136.59V603.42H137.83V603.66H139.06V603.90H140.29V604.09H141.53V604.25H142.76V604.42H143.99V604.59H145.22V604.75H146.46V604.92H147.69V604.92H148.92V604.92H150.16V604.92H151.39V604.92H152.62V604.92H153.86V604.92H155.09V604.92H156.32V604.92H157.56V604.92H158.79V604.92H160.02V604.92H161.25V604.92H162.49V604.92H163.72V604.92H164.95V604.92H166.19V604.92H167.42V604.92H168.65V604.92H169.88V604.92H171.12V604.92H172.35V604.92H173.58V604.92H174.82V604.92H176.05V604.92H177.28V604.92H178.52V604.92H179.75V604.92H180.98V604.92H182.22V605.40Z" fill="#d5cfa2" stroke="#d5cfa2" stroke-width="0.6"/><rect x="113.70" y="499.66" width="2.63" height="67.58" fill="#d3cdb0"/><line x1="46.70" x2="46.70" y1="483.50" y2="606.15" stroke="#111" stroke-width="1.4"/><line x1="42.80" x2="183.10" y1="605.70" y2="605.70" stroke="#111" stroke-width="1.5"/><line x1="42.50" x2="47.00" y1="605.40" y2="605.40" stroke="#111" stroke-width="1.5"/><line x1="42.50" x2="47.00" y1="589.50" y2="589.50" stroke="#111" stroke-width="1.5"/><line x1="42.50" x2="47.00" y1="573.60" y2="573.60" stroke="#111" stroke-width="1.5"/><line x1="42.50" x2="47.00" y1="557.70" y2="557.70" stroke="#111" stroke-width="1.5"/><line x1="42.50" x2="47.00" y1="541.80" y2="541.80" stroke="#111" stroke-width="1.5"/><line x1="42.50" x2="47.00" y1="525.90" y2="525.90" stroke="#111" stroke-width="1.5"/><line x1="42.50" x2="47.00" y1="510.00" y2="510.00" stroke="#111" stroke-width="1.5"/><line x1="42.50" x2="47.00" y1="494.10" y2="494.10" stroke="#111" stroke-width="1.5"/><line x1="52.75" x2="52.75" y1="605.40" y2="612.70" stroke="#111" stroke-width="1.5"/><line x1="65.08" x2="65.08" y1="605.40" y2="612.70" stroke="#111" stroke-width="1.5"/><line x1="77.41" x2="77.41" y1="605.40" y2="612.70" stroke="#111" stroke-width="1.5"/><line x1="89.74" x2="89.74" y1="605.40" y2="612.70" stroke="#111" stroke-width="1.5"/><line x1="102.07" x2="102.07" y1="605.40" y2="612.70" stroke="#111" stroke-width="1.5"/><line x1="114.40" x2="114.40" y1="605.40" y2="612.70" stroke="#111" stroke-width="1.5"/><line x1="126.73" x2="126.73" y1="605.40" y2="612.70" stroke="#111" stroke-width="1.5"/><line x1="139.06" x2="139.06" y1="605.40" y2="612.70" stroke="#111" stroke-width="1.5"/><line x1="151.39" x2="151.39" y1="605.40" y2="612.70" stroke="#111" stroke-width="1.5"/><line x1="163.72" x2="163.72" y1="605.40" y2="612.70" stroke="#111" stroke-width="1.5"/><line x1="176.05" x2="176.05" y1="605.40" y2="612.70" stroke="#111" stroke-width="1.5"/><text transform="translate(52.75,630.00) scale(0.625,1)" text-anchor="middle" font-size="15.4" fill="#111" stroke="#111" stroke-width="0.2">-.5</text><text transform="translate(65.08,630.00) scale(0.625,1)" text-anchor="middle" font-size="15.4" fill="#111" stroke="#111" stroke-width="0.2">-.4</text><text transform="translate(77.41,630.00) scale(0.625,1)" text-anchor="middle" font-size="15.4" fill="#111" stroke="#111" stroke-width="0.2">-.3</text><text transform="translate(89.74,630.00) scale(0.625,1)" text-anchor="middle" font-size="15.4" fill="#111" stroke="#111" stroke-width="0.2">-.2</text><text transform="translate(102.07,630.00) scale(0.625,1)" text-anchor="middle" font-size="15.4" fill="#111" stroke="#111" stroke-width="0.2">-.1</text><text transform="translate(114.40,630.00) scale(0.625,1)" text-anchor="middle" font-size="15.4" fill="#111" stroke="#111" stroke-width="0.2">0</text><text transform="translate(126.73,630.00) scale(0.625,1)" text-anchor="middle" font-size="15.4" fill="#111" stroke="#111" stroke-width="0.2">.1</text><text transform="translate(139.06,630.00) scale(0.625,1)" text-anchor="middle" font-size="15.4" fill="#111" stroke="#111" stroke-width="0.2">.2</text><text transform="translate(151.39,630.00) scale(0.625,1)" text-anchor="middle" font-size="15.4" fill="#111" stroke="#111" stroke-width="0.2">.3</text><text transform="translate(163.72,630.00) scale(0.625,1)" text-anchor="middle" font-size="15.4" fill="#111" stroke="#111" stroke-width="0.2">.4</text><text transform="translate(176.05,630.00) scale(0.625,1)" text-anchor="middle" font-size="15.4" fill="#111" stroke="#111" stroke-width="0.2">.5</text><text transform="translate(38.70,605.40) rotate(-90) scale(1,0.63)" text-anchor="middle" font-size="15.5" fill="#111" stroke="#111" stroke-width="0.2">0</text><text transform="translate(38.70,589.50) rotate(-90) scale(1,0.63)" text-anchor="middle" font-size="15.5" fill="#111" stroke="#111" stroke-width="0.2">2</text><text transform="translate(38.70,573.60) rotate(-90) scale(1,0.63)" text-anchor="middle" font-size="15.5" fill="#111" stroke="#111" stroke-width="0.2">4</text><text transform="translate(38.70,557.70) rotate(-90) scale(1,0.63)" text-anchor="middle" font-size="15.5" fill="#111" stroke="#111" stroke-width="0.2">6</text><text transform="translate(38.70,541.80) rotate(-90) scale(1,0.63)" text-anchor="middle" font-size="15.5" fill="#111" stroke="#111" stroke-width="0.2">8</text><text transform="translate(38.70,525.90) rotate(-90) scale(1,0.63)" text-anchor="middle" font-size="15.5" fill="#111" stroke="#111" stroke-width="0.2">10</text><text transform="translate(38.70,510.00) rotate(-90) scale(1,0.63)" text-anchor="middle" font-size="15.5" fill="#111" stroke="#111" stroke-width="0.2">12</text><text transform="translate(38.70,494.10) rotate(-90) scale(1,0.63)" text-anchor="middle" font-size="15.5" fill="#111" stroke="#111" stroke-width="0.2">14</text><text transform="translate(115.05,644.20) scale(0.62,1)" text-anchor="middle" font-size="14.7" word-spacing="2.7" fill="#111" stroke="#111" stroke-width="0.12">Proportionate Change in Annual Pay</text><text transform="translate(28.00,542.50) rotate(-90) scale(1,0.64)" text-anchor="middle" font-size="15.8" fill="#111" stroke="#111" stroke-width="0.2">Per cent</text><text transform="translate(115.05,478.50) scale(0.657,1)" text-anchor="middle" font-size="11.4" fill="#30386c" stroke="#30386c" stroke-width="0.18">2011 to 2012, Public Sector</text></g>
<g><rect x="229.65" y="483.50" width="136.10" height="121.90" fill="#fff"/><line x1="229.65" x2="365.75" y1="589.50" y2="589.50" stroke="#e8efe7" stroke-width="1"/><line x1="229.65" x2="365.75" y1="573.50" y2="573.50" stroke="#e8efe7" stroke-width="1"/><line x1="229.65" x2="365.75" y1="557.50" y2="557.50" stroke="#e8efe7" stroke-width="1"/><line x1="229.65" x2="365.75" y1="541.50" y2="541.50" stroke="#e8efe7" stroke-width="1"/><line x1="229.65" x2="365.75" y1="525.50" y2="525.50" stroke="#e8efe7" stroke-width="1"/><line x1="229.65" x2="365.75" y1="510.50" y2="510.50" stroke="#e8efe7" stroke-width="1"/><line x1="297.55" x2="297.55" y1="483.50" y2="605.40" stroke="#c70035" stroke-width="1.7"/><line x1="298.41" x2="298.41" y1="605.90" y2="483.50" stroke="#c70035" stroke-width="1.7" stroke-dasharray="15 5.5" stroke-dashoffset="0.5"/><path d="M235.40 605.40V604.92H236.63V604.92H237.87V604.92H239.10V604.92H240.33V604.92H241.56V604.92H242.80V604.92H244.03V604.92H245.26V604.92H246.50V604.92H247.73V604.92H248.96V604.92H250.20V604.92H251.43V604.92H252.66V604.92H253.90V604.92H255.13V604.92H256.36V604.92H257.59V604.92H258.83V604.92H260.06V604.92H261.29V604.92H262.53V604.92H263.76V604.92H264.99V604.92H266.23V604.92H267.46V604.88H268.69V604.76H269.92V604.65H271.16V604.43H272.39V604.13H273.62V603.83H274.86V603.53H276.09V603.23H277.32V602.89H278.56V602.53H279.79V602.17H281.02V601.82H282.25V601.46H283.49V600.69H284.72V599.87H285.95V599.05H287.19V597.31H288.42V595.18H289.65V592.38H290.88V586.92H292.12V579.53H293.35V575.19H294.58V575.19H295.82V510.79H297.05V572.80H298.28V570.91H299.52V568.56H300.75V567.50H301.98V578.00H303.22V589.15H304.45V593.37H305.68V596.39H306.91V597.85H308.15V599.30H309.38V600.14H310.61V600.81H311.85V601.49H313.08V602.16H314.31V602.53H315.55V602.83H316.78V603.12H318.01V603.41H319.24V603.70H320.48V603.91H321.71V604.11H322.94V604.31H324.18V604.51H325.41V604.70H326.64V604.90H327.88V604.92H329.11V604.92H330.34V604.92H331.57V604.92H332.81V604.92H334.04V604.92H335.27V604.92H336.51V604.92H337.74V604.92H338.97V604.92H340.21V604.92H341.44V604.92H342.67V604.92H343.90V604.92H345.14V604.92H346.37V604.92H347.60V604.92H348.84V604.92H350.07V604.92H351.30V604.92H352.54V604.92H353.77V604.92H355.00V604.92H356.23V604.92H357.47V604.92H358.70V604.92H359.93V604.92H361.17V604.92H362.40V604.92H363.63V604.92H364.87V605.40Z" fill="#d5cfa2" stroke="#d5cfa2" stroke-width="0.6"/><rect x="295.12" y="510.79" width="2.63" height="63.71" fill="#d3cdb0"/><line x1="229.35" x2="229.35" y1="483.50" y2="606.15" stroke="#111" stroke-width="1.4"/><line x1="225.45" x2="365.75" y1="605.70" y2="605.70" stroke="#111" stroke-width="1.5"/><line x1="225.15" x2="229.65" y1="605.40" y2="605.40" stroke="#111" stroke-width="1.5"/><line x1="225.15" x2="229.65" y1="589.50" y2="589.50" stroke="#111" stroke-width="1.5"/><line x1="225.15" x2="229.65" y1="573.60" y2="573.60" stroke="#111" stroke-width="1.5"/><line x1="225.15" x2="229.65" y1="557.70" y2="557.70" stroke="#111" stroke-width="1.5"/><line x1="225.15" x2="229.65" y1="541.80" y2="541.80" stroke="#111" stroke-width="1.5"/><line x1="225.15" x2="229.65" y1="525.90" y2="525.90" stroke="#111" stroke-width="1.5"/><line x1="225.15" x2="229.65" y1="510.00" y2="510.00" stroke="#111" stroke-width="1.5"/><line x1="225.15" x2="229.65" y1="494.10" y2="494.10" stroke="#111" stroke-width="1.5"/><line x1="235.40" x2="235.40" y1="605.40" y2="612.70" stroke="#111" stroke-width="1.5"/><line x1="247.73" x2="247.73" y1="605.40" y2="612.70" stroke="#111" stroke-width="1.5"/><line x1="260.06" x2="260.06" y1="605.40" y2="612.70" stroke="#111" stroke-width="1.5"/><line x1="272.39" x2="272.39" y1="605.40" y2="612.70" stroke="#111" stroke-width="1.5"/><line x1="284.72" x2="284.72" y1="605.40" y2="612.70" stroke="#111" stroke-width="1.5"/><line x1="297.05" x2="297.05" y1="605.40" y2="612.70" stroke="#111" stroke-width="1.5"/><line x1="309.38" x2="309.38" y1="605.40" y2="612.70" stroke="#111" stroke-width="1.5"/><line x1="321.71" x2="321.71" y1="605.40" y2="612.70" stroke="#111" stroke-width="1.5"/><line x1="334.04" x2="334.04" y1="605.40" y2="612.70" stroke="#111" stroke-width="1.5"/><line x1="346.37" x2="346.37" y1="605.40" y2="612.70" stroke="#111" stroke-width="1.5"/><line x1="358.70" x2="358.70" y1="605.40" y2="612.70" stroke="#111" stroke-width="1.5"/><text transform="translate(235.40,630.00) scale(0.625,1)" text-anchor="middle" font-size="15.4" fill="#111" stroke="#111" stroke-width="0.2">-.5</text><text transform="translate(247.73,630.00) scale(0.625,1)" text-anchor="middle" font-size="15.4" fill="#111" stroke="#111" stroke-width="0.2">-.4</text><text transform="translate(260.06,630.00) scale(0.625,1)" text-anchor="middle" font-size="15.4" fill="#111" stroke="#111" stroke-width="0.2">-.3</text><text transform="translate(272.39,630.00) scale(0.625,1)" text-anchor="middle" font-size="15.4" fill="#111" stroke="#111" stroke-width="0.2">-.2</text><text transform="translate(284.72,630.00) scale(0.625,1)" text-anchor="middle" font-size="15.4" fill="#111" stroke="#111" stroke-width="0.2">-.1</text><text transform="translate(297.05,630.00) scale(0.625,1)" text-anchor="middle" font-size="15.4" fill="#111" stroke="#111" stroke-width="0.2">0</text><text transform="translate(309.38,630.00) scale(0.625,1)" text-anchor="middle" font-size="15.4" fill="#111" stroke="#111" stroke-width="0.2">.1</text><text transform="translate(321.71,630.00) scale(0.625,1)" text-anchor="middle" font-size="15.4" fill="#111" stroke="#111" stroke-width="0.2">.2</text><text transform="translate(334.04,630.00) scale(0.625,1)" text-anchor="middle" font-size="15.4" fill="#111" stroke="#111" stroke-width="0.2">.3</text><text transform="translate(346.37,630.00) scale(0.625,1)" text-anchor="middle" font-size="15.4" fill="#111" stroke="#111" stroke-width="0.2">.4</text><text transform="translate(358.70,630.00) scale(0.625,1)" text-anchor="middle" font-size="15.4" fill="#111" stroke="#111" stroke-width="0.2">.5</text><text transform="translate(220.60,605.40) rotate(-90) scale(1,0.63)" text-anchor="middle" font-size="15.5" fill="#111" stroke="#111" stroke-width="0.2">0</text><text transform="translate(220.60,589.50) rotate(-90) scale(1,0.63)" text-anchor="middle" font-size="15.5" fill="#111" stroke="#111" stroke-width="0.2">2</text><text transform="translate(220.60,573.60) rotate(-90) scale(1,0.63)" text-anchor="middle" font-size="15.5" fill="#111" stroke="#111" stroke-width="0.2">4</text><text transform="translate(220.60,557.70) rotate(-90) scale(1,0.63)" text-anchor="middle" font-size="15.5" fill="#111" stroke="#111" stroke-width="0.2">6</text><text transform="translate(220.60,541.80) rotate(-90) scale(1,0.63)" text-anchor="middle" font-size="15.5" fill="#111" stroke="#111" stroke-width="0.2">8</text><text transform="translate(220.60,525.90) rotate(-90) scale(1,0.63)" text-anchor="middle" font-size="15.5" fill="#111" stroke="#111" stroke-width="0.2">10</text><text transform="translate(220.60,510.00) rotate(-90) scale(1,0.63)" text-anchor="middle" font-size="15.5" fill="#111" stroke="#111" stroke-width="0.2">12</text><text transform="translate(220.60,494.10) rotate(-90) scale(1,0.63)" text-anchor="middle" font-size="15.5" fill="#111" stroke="#111" stroke-width="0.2">14</text><text transform="translate(297.70,644.20) scale(0.62,1)" text-anchor="middle" font-size="14.7" word-spacing="2.7" fill="#111" stroke="#111" stroke-width="0.12">Proportionate Change in Annual Pay</text><text transform="translate(210.20,542.50) rotate(-90) scale(1,0.64)" text-anchor="middle" font-size="15.8" fill="#111" stroke="#111" stroke-width="0.2">Per cent</text><text transform="translate(297.70,478.50) scale(0.657,1)" text-anchor="middle" font-size="11.4" fill="#30386c" stroke="#30386c" stroke-width="0.18">2012 to 2013, Public Sector</text></g>
</svg>
</body></html>
